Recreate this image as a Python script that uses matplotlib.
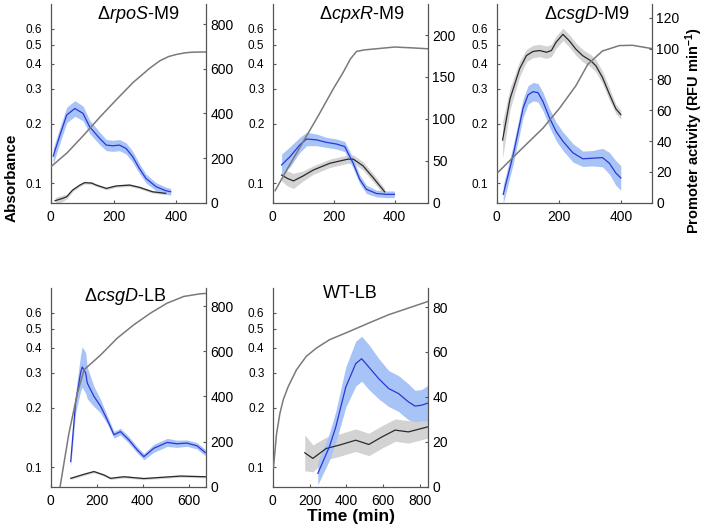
import matplotlib
matplotlib.use('Agg')
import matplotlib.pyplot as plt
from matplotlib.ticker import FixedLocator, NullLocator

plt.rcParams['font.family'] = ['Liberation Sans', 'DejaVu Sans']
plt.rcParams['mathtext.fontset'] = 'custom'
plt.rcParams['mathtext.rm'] = 'Liberation Sans'
plt.rcParams['mathtext.it'] = 'Liberation Sans:italic'
plt.rcParams['mathtext.bf'] = 'Liberation Sans:bold'

# --- data ---
# time (min), absorbance (left, log) ; promoter activity (right, RFU/min) with band half-width

rpos_abs_t = [0, 53, 105, 158, 210, 263, 315, 347, 375, 400, 430, 455, 500]
rpos_abs = [0.121, 0.143, 0.175, 0.217, 0.265, 0.323, 0.38, 0.414, 0.435, 0.446, 0.455, 0.458, 0.459]
rpos_blue_t = [8, 30, 51, 77, 103, 124, 156, 177, 198, 219, 240, 261, 282, 303, 335, 366, 382]
rpos_blue = [209, 305, 393, 422, 400, 340, 288, 258, 255, 258, 243, 206, 154, 109, 72, 54, 49]
rpos_blue_err = [35, 35, 35, 35, 33, 30, 28, 25, 25, 25, 25, 25, 22, 20, 18, 16, 15]
rpos_blk_t = [14, 39, 51, 70, 93, 108, 130, 145, 177, 208, 251, 282, 324, 366]
rpos_blk = [9, 20, 27, 57, 79, 90, 88, 79, 64, 75, 79, 69, 49, 42]
rpos_blk_err = [15, 14, 10, 7, 6, 6, 6, 6, 6, 6, 6, 6, 6, 6]

cpxr_abs_t = [8, 50, 100, 150, 200, 230, 255, 275, 300, 350, 400, 460, 510]
cpxr_abs = [0.092, 0.12, 0.1625, 0.22, 0.302, 0.36, 0.424, 0.462, 0.47, 0.478, 0.486, 0.481, 0.476]
cpxr_blue_t = [29, 57, 89, 111, 143, 176, 209, 236, 264, 285, 307, 340, 372, 399]
cpxr_blue = [45, 55, 69, 76, 75, 72, 70, 67, 47, 28, 16, 11, 10, 10]
cpxr_blue_err = [13, 12, 9, 8, 7, 6, 6, 6, 6, 5, 5, 4, 4, 4]
cpxr_blk_t = [29, 48, 68, 100, 133, 187, 247, 264, 296, 329, 367]
cpxr_blk = [33, 29, 26, 32, 39, 47, 52, 52, 44, 30, 13]
cpxr_blk_err = [7, 9, 9, 6, 5, 5, 5, 5, 5, 5, 4]

csgm_abs_t = [0, 58, 100, 149, 202, 255, 293, 340, 394, 436, 500]
csgm_abs = [0.112, 0.138, 0.16, 0.19, 0.239, 0.311, 0.398, 0.464, 0.494, 0.496, 0.477]
csgm_blue_t = [21, 53, 85, 101, 117, 133, 149, 170, 191, 213, 245, 277, 309, 340, 362, 383, 399]
csgm_blue = [5.4, 31, 61.5, 70, 72.1, 71.4, 65.6, 55, 46.3, 39.9, 32.4, 28.5, 28.9, 29.3, 25.7, 19.3, 16.1]
csgm_blue_err = [6, 6, 6, 6, 6, 6, 6, 6, 6, 6, 6, 5, 5, 6, 7, 8, 8]
csgm_blk_t = [19, 43, 74, 96, 117, 138, 160, 176, 191, 213, 234, 255, 277, 303, 319, 340, 362, 383, 399]
csgm_blk = [40.7, 67.5, 87, 95.6, 98.2, 98.8, 97.7, 98.8, 104.2, 109.3, 105, 99.6, 95.4, 92.1, 88.9, 81.4,
            70.7, 61, 57.2]
csgm_blk_err = [12, 7, 5, 4, 4, 4, 4, 4, 4, 4, 4, 4, 4, 4, 4, 4, 4, 3, 3]

csgl_abs_t = [40, 79, 116, 145, 217, 289, 361, 434, 506, 578, 650, 676]
csgl_abs = [0.079, 0.148, 0.236, 0.31, 0.368, 0.447, 0.522, 0.598, 0.671, 0.725, 0.748, 0.751]
csgl_blue_t = [87, 108, 130, 137, 152, 159, 188, 217, 246, 275, 303, 340, 376, 405, 448, 506, 549, 592,
               636, 672]
csgl_blue = [111, 370, 504, 530, 504, 459, 400, 356, 296, 230, 244, 207, 163, 133, 170, 196, 190, 193,
             181, 151]
csgl_blue_err = [20, 45, 80, 90, 90, 70, 45, 30, 18, 15, 15, 15, 14, 14, 18, 18, 16, 14, 14, 14]
csgl_blk_t = [87, 145, 188, 231, 260, 318, 405, 477, 564, 672]
csgl_blk = [37, 55, 67, 52, 37, 44, 36, 41, 47, 44]
csgl_blk_err = [5, 5, 5, 5, 5, 5, 5, 5, 5, 5]

wt_abs_t = [4, 21, 39, 57, 84, 129, 182, 236, 308, 415, 522, 630, 737, 845]
wt_abs = [0.1, 0.148, 0.187, 0.219, 0.255, 0.31, 0.362, 0.398, 0.439, 0.483, 0.533, 0.587, 0.634, 0.685]
wt_blue_t = [245, 308, 343, 397, 451, 483, 522, 576, 630, 683, 737, 773, 809, 845]
wt_blue = [5.9, 17.8, 26.7, 44.4, 54.8, 57, 53.3, 48.1, 43.7, 41.5, 37.8, 35.9, 36.3, 37.3]
wt_blue_err = [5, 6, 7, 9, 10, 10, 10, 9, 8, 8, 8, 7, 7, 8]
wt_blk_t = [174, 218, 290, 361, 451, 522, 594, 665, 737, 845]
wt_blk = [15.1, 12.6, 17, 18.5, 20.7, 18.8, 22.2, 25.2, 24.4, 26.7]
wt_blk_err = [8, 6, 5, 5, 5, 5, 5, 5, 5, 5]

abs_ticks = [0.1, 0.2, 0.3, 0.4, 0.5, 0.6]

panels = [
    # title, title x, title y, abs, blue, black, xlim, xticks, right ylim, right ticks
    ('Δ$\\mathit{rpoS}$-M9', 0.564, 0.945, (rpos_abs_t, rpos_abs),
     (rpos_blue_t, rpos_blue, rpos_blue_err), (rpos_blk_t, rpos_blk, rpos_blk_err),
     495, [0, 200, 400], 890, [0, 200, 400, 600, 800]),
    ('Δ$\\mathit{cpxR}$-M9', 0.572, 0.945, (cpxr_abs_t, cpxr_abs),
     (cpxr_blue_t, cpxr_blue, cpxr_blue_err), (cpxr_blk_t, cpxr_blk, cpxr_blk_err),
     510, [0, 200, 400], 237, [0, 50, 100, 150, 200]),
    ('Δ$\\mathit{csgD}$-M9', 0.576, 0.945, (csgm_abs_t, csgm_abs),
     (csgm_blue_t, csgm_blue, csgm_blue_err), (csgm_blk_t, csgm_blk, csgm_blk_err),
     500, [0, 200, 400], 129, [0, 20, 40, 60, 80, 100, 120]),
    ('Δ$\\mathit{csgD}$-LB', 0.48, 0.956, (csgl_abs_t, csgl_abs),
     (csgl_blue_t, csgl_blue, csgl_blue_err), (csgl_blk_t, csgl_blk, csgl_blk_err),
     676, [0, 200, 400, 600], 880, [0, 200, 400, 600, 800]),
    ('WT-LB', 0.50, 0.973, (wt_abs_t, wt_abs),
     (wt_blue_t, wt_blue, wt_blue_err), (wt_blk_t, wt_blk, wt_blk_err),
     845, [0, 200, 400, 600, 800], 88.5, [0, 20, 40, 60, 80]),
]

positions = [
    (0.0718, 0.6168), (0.3863, 0.6168), (0.7035, 0.6168),
    (0.0718, 0.080), (0.3863, 0.080),
]
w, h = 0.2203, 0.3756

fig = plt.figure(figsize=(7.06, 5.29), dpi=100)

for (x0, y0), p in zip(positions, panels):
    title, tx, ty, ab, bl, bk, xmax, xt, rmax, rt = p
    ax = fig.add_axes([x0, y0, w, h])
    ax2 = ax.twinx()
    ax.set_yscale('log')
    ax.plot(ab[0], ab[1], color='#7a7a7a', lw=1.1, zorder=3)
    ax.set_ylim(0.08, 0.8)
    ax.set_xlim(0, xmax)
    ax.yaxis.set_major_locator(FixedLocator(abs_ticks))
    ax.yaxis.set_minor_locator(NullLocator())
    ax.set_yticklabels([str(v) for v in abs_ticks])
    ax.set_xticks(xt)

    lo = [v - e for v, e in zip(bk[1], bk[2])]
    hi = [v + e for v, e in zip(bk[1], bk[2])]
    ax2.fill_between(bk[0], lo, hi, color='#d3d3d3', lw=0)
    ax2.plot(bk[0], bk[1], color='#2a2a2a', lw=0.9)
    lo = [v - e for v, e in zip(bl[1], bl[2])]
    hi = [v + e for v, e in zip(bl[1], bl[2])]
    ax2.fill_between(bl[0], lo, hi, color='#a8c4f6', lw=0)
    ax2.plot(bl[0], bl[1], color='#2b36d6', lw=0.9)
    ax2.set_ylim(0, rmax)
    ax2.set_yticks(rt)
    ax2.set_xlim(0, xmax)

    for a in (ax, ax2):
        a.spines['top'].set_visible(False)
        for s in a.spines.values():
            s.set_color('#555555')
            s.set_linewidth(0.9)
    ax.spines['right'].set_visible(False)
    ax2.spines['left'].set_visible(False)
    ax2.spines['bottom'].set_visible(False)
    ax.tick_params(axis='y', direction='in', length=2, pad=6, labelsize=8.5, color='#555555')
    ax.tick_params(axis='x', direction='in', length=2, pad=5, labelsize=10, color='#555555')
    ax2.tick_params(axis='y', direction='in', length=2, pad=3, labelsize=10, color='#555555')

    ax.set_zorder(ax2.get_zorder() + 1)
    ax.patch.set_visible(False)
    ax2.text(tx, ty, title, transform=ax2.transAxes, ha='center', va='center', fontsize=13)

fig.text(0.017, 0.664, 'Absorbance', rotation=90, ha='center', va='center',
         fontsize=11, fontweight='bold')
fig.text(0.983, 0.754, 'Promoter activity (RFU min$^{\\mathbf{-1}}$)', rotation=90,
         ha='center', va='center', fontsize=10.5, fontweight='bold')
fig.text(0.497, 0.023, 'Time (min)', ha='center', va='center', fontsize=12.5, fontweight='bold')

fig.savefig('out.png', dpi=100)
